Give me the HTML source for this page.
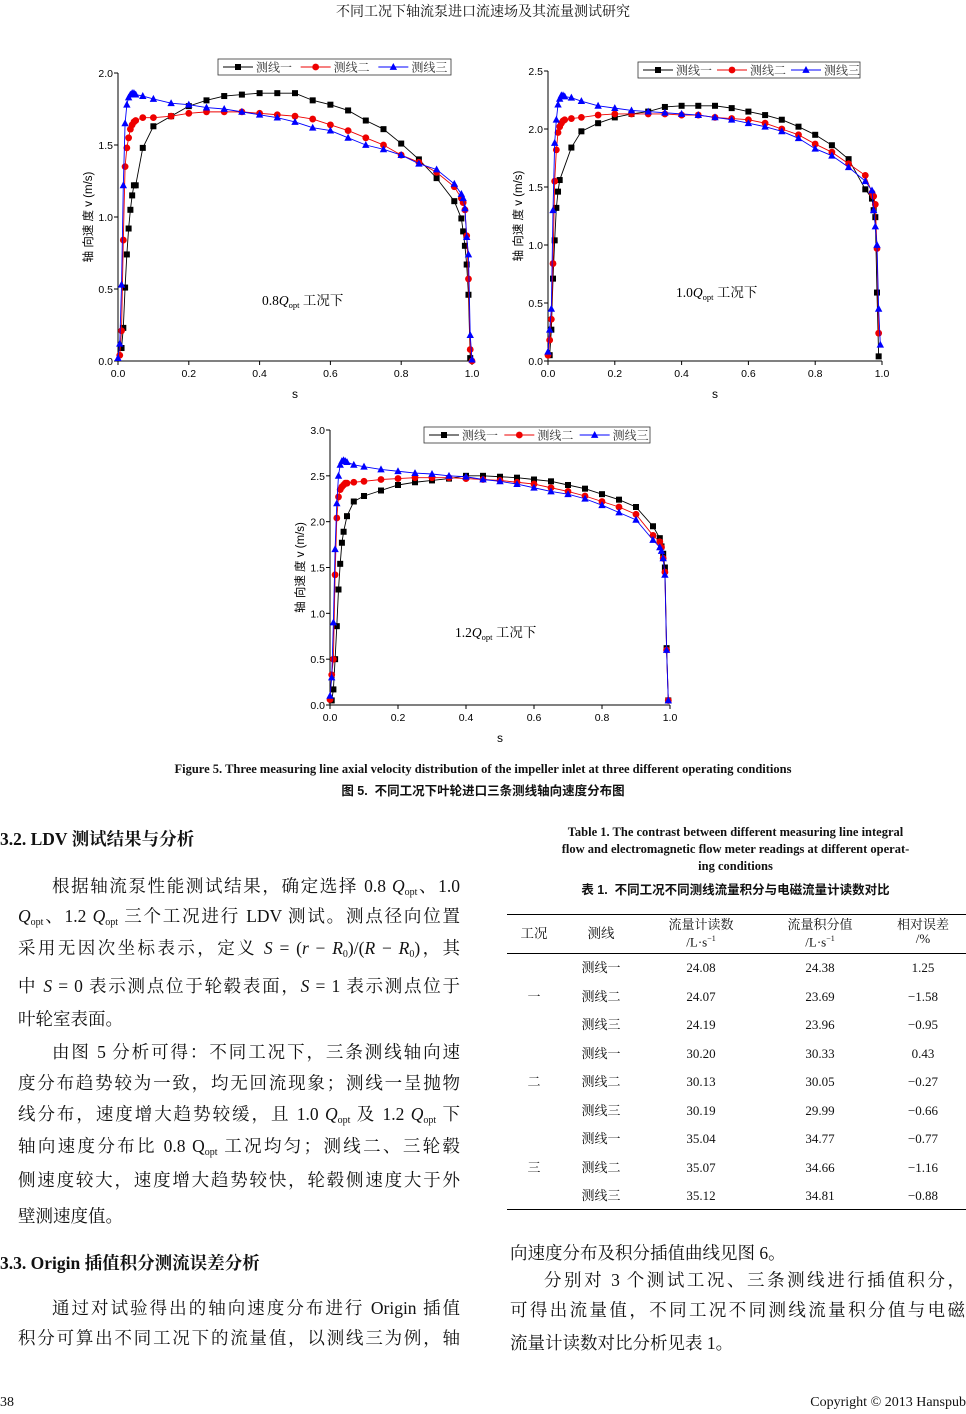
<!DOCTYPE html>
<html><head><meta charset="utf-8">
<style>
body{margin:0;width:966px;height:1414px;position:relative;background:#fff;overflow:hidden;font-family:"Liberation Serif","Noto Serif CJK SC",serif;color:#111}
.a{position:absolute;white-space:nowrap}
.ln{position:absolute;left:18px;width:442px;font-size:17.5px;text-align:justify;text-align-last:justify;white-space:nowrap;line-height:20px}
.rn{position:absolute;left:510px;width:455px;font-size:17.5px;text-align:justify;text-align-last:justify;white-space:nowrap;line-height:20px}
.h{font-weight:bold;font-size:17.5px;position:absolute;left:0}
sub{font-size:10px;vertical-align:-3px}
.t{position:absolute;font-size:13px;text-align:center;width:100px;line-height:14px}
</style></head><body>
<div class="a" style="left:0;width:966px;text-align:center;top:1px;font-size:14px">不同工况下轴流泵进口流速场及其流量测试研究</div>
<svg id="s" width="966" height="760" style="position:absolute;left:0;top:0"></svg>
<div class="a" style="left:0;width:966px;text-align:center;top:762px;font-size:12.5px;font-weight:bold">Figure 5. Three measuring line axial velocity distribution of the impeller inlet at three different operating conditions</div>
<div class="a" style="left:0;width:966px;text-align:center;top:780px;font-size:12.5px;font-weight:bold;font-family:'Liberation Sans','Noto Sans CJK SC',sans-serif">图 5.&nbsp; 不同工况下叶轮进口三条测线轴向速度分布图</div>

<div class="h" style="top:826px;left:0">3.2. LDV 测试结果与分析</div>
<div class="ln" style="top:876px;padding-left:34px;width:408px">根据轴流泵性能测试结果，确定选择 0.8 <i>Q</i><sub>opt</sub>、1.0</div>
<div class="ln" style="top:906px"><i>Q</i><sub>opt</sub>、1.2 <i>Q</i><sub>opt</sub> 三个工况进行 LDV 测试。测点径向位置</div>
<div class="ln" style="top:938px">采用无因次坐标表示，定义 <i>S</i> = (<i>r</i> − <i>R</i><sub>0</sub>)/(<i>R</i> − <i>R</i><sub>0</sub>)，其</div>
<div class="ln" style="top:976px">中 <i>S</i> = 0 表示测点位于轮毂表面，<i>S</i> = 1 表示测点位于</div>
<div class="a" style="left:18px;top:1006px;font-size:17.5px">叶轮室表面。</div>
<div class="ln" style="top:1042px;padding-left:34px;width:408px">由图 5 分析可得：不同工况下，三条测线轴向速</div>
<div class="ln" style="top:1073px">度分布趋势较为一致，均无回流现象；测线一呈抛物</div>
<div class="ln" style="top:1104px">线分布，速度增大趋势较缓，且 1.0 <i>Q</i><sub>opt</sub> 及 1.2 <i>Q</i><sub>opt</sub> 下</div>
<div class="ln" style="top:1136px">轴向速度分布比 0.8 Q<sub>opt</sub> 工况均匀；测线二、三轮毂</div>
<div class="ln" style="top:1170px">侧速度较大，速度增大趋势较快，轮毂侧速度大于外</div>
<div class="a" style="left:18px;top:1203px;font-size:17.5px">壁测速度值。</div>
<div class="h" style="top:1250px;left:0">3.3. Origin 插值积分测流误差分析</div>
<div class="ln" style="top:1298px;padding-left:34px;width:408px">通过对试验得出的轴向速度分布进行 Origin 插值</div>
<div class="ln" style="top:1328px">积分可算出不同工况下的流量值，以测线三为例，轴</div>

<div class="a" style="left:510px;top:1240px;font-size:17.5px">向速度分布及积分插值曲线见图 6。</div>
<div class="rn" style="top:1270px;padding-left:34px;width:421px">分别对 3 个测试工况、三条测线进行插值积分，</div>
<div class="rn" style="top:1300px">可得出流量值，不同工况不同测线流量积分值与电磁</div>
<div class="a" style="left:510px;top:1330px;font-size:17.5px">流量计读数对比分析见表 1。</div>

<div class="a" style="left:505px;width:461px;text-align:center;top:824px;font-size:12.5px;font-weight:bold;line-height:17px">Table 1. The contrast between different measuring line integral<br>flow and electromagnetic flow meter readings at different operat-<br>ing conditions</div>
<div class="a" style="left:505px;width:461px;text-align:center;top:879px;font-size:12.5px;font-weight:bold;font-family:'Liberation Sans','Noto Sans CJK SC',sans-serif">表 1.&nbsp; 不同工况不同测线流量积分与电磁流量计读数对比</div>
<div class="a" style="left:507px;width:459px;top:914px;border-top:1.5px solid #000"></div>
<div class="a" style="left:507px;width:459px;top:953px;border-top:1px solid #000"></div>
<div class="a" style="left:507px;width:459px;top:1209px;border-top:1.5px solid #000"></div>
<div id="tb"></div>

<div class="a" style="left:0;top:1395px;font-size:14px">38</div>
<div class="a" style="right:0;top:1395px;font-size:14px">Copyright © 2013 Hanspub</div>

<script>
const S=document.getElementById('s');let h='';
function chart(o){
 const X=v=>o.x0+(o.x1-o.x0)*v, Y=v=>o.y0-(o.y0-o.y1)*v/o.ym;
 h+=`<line x1="${o.x0}" y1="${o.y0}" x2="${o.x1}" y2="${o.y0}" stroke="#000"/><line x1="${o.x0}" y1="${o.y0}" x2="${o.x0}" y2="${o.y1}" stroke="#000"/>`;
 for(let i=0;i<=5;i++){let v=i*0.2,x=X(v);h+=`<line x1="${x}" y1="${o.y0}" x2="${x}" y2="${o.y0+4}" stroke="#000"/><text x="${x}" y="${o.y0+16}" font-size="10.5" text-anchor="middle" font-family="Liberation Sans">${v.toFixed(1)}</text>`;}
 for(let v=0;v<=o.ym+1e-6;v+=0.5){let y=Y(v);h+=`<line x1="${o.x0}" y1="${y}" x2="${o.x0-4}" y2="${y}" stroke="#000"/><text x="${o.x0-5}" y="${y+4}" font-size="10.5" text-anchor="end" font-family="Liberation Sans">${v.toFixed(1)}</text>`;}
 h+=`<text x="${(o.x0+o.x1)/2}" y="${o.y0+37}" font-size="12" text-anchor="middle" font-family="Liberation Sans">s</text>`;
 const yc=(o.y0+o.y1)/2;
 h+=`<text transform="translate(${o.x0-26},${yc}) rotate(-90)" font-size="11.5" text-anchor="middle" font-family="Liberation Sans,Noto Sans CJK SC">轴 向速 度 v (m/s)</text>`;
 const cols=['#000','#e00','#00f'];
 o.d.forEach((d,k)=>{
  let pts=d.map(p=>[X(p[0]),Y(p[1])]);
  h+=`<polyline points="${pts.map(p=>p.join(',')).join(' ')}" fill="none" stroke="${cols[k]}" stroke-width="0.9"/>`;
  pts.forEach(p=>{
   if(k==0)h+=`<rect x="${p[0]-3}" y="${p[1]-3}" width="6" height="6" fill="#000"/>`;
   else if(k==1)h+=`<circle cx="${p[0]}" cy="${p[1]}" r="3.4" fill="#e00"/>`;
   else h+=`<polygon points="${p[0]},${p[1]-4} ${p[0]-3.7},${p[1]+2.9} ${p[0]+3.7},${p[1]+2.9}" fill="#00f"/>`;
  });
 });
 const L=o.lg;h+=`<rect x="${L[0]}" y="${L[1]}" width="${L[2]}" height="16" fill="#fff" stroke="#333" stroke-width="0.8"/>`;
 const names=['测线一','测线二','测线三'],w=L[2]/3;
 for(let k=0;k<3;k++){let x=L[0]+5+k*w,y=L[1]+8;
  h+=`<line x1="${x}" y1="${y}" x2="${x+30}" y2="${y}" stroke="${cols[k]}"/>`;
  let c=x+15;
  if(k==0)h+=`<rect x="${c-3}" y="${y-3}" width="6" height="6"/>`;else if(k==1)h+=`<circle cx="${c}" cy="${y}" r="3.4" fill="#e00"/>`;else h+=`<polygon points="${c},${y-4} ${c-3.7},${y+2.9} ${c+3.7},${y+2.9}" fill="#00f"/>`;
  h+=`<text x="${x+33}" y="${y+4.5}" font-size="12" font-family="Noto Serif CJK SC" fill="#333">${names[k]}</text>`;}
 h+=`<text x="${o.an[0]}" y="${o.an[1]}" font-size="13.5" font-family="Liberation Serif,Noto Serif CJK SC">${o.an[2]}<tspan font-style="italic">Q</tspan><tspan font-size="8.5" dy="3">opt</tspan><tspan dy="-3"> 工况下</tspan></text>`;
}
const sx=[0,0.005,0.01,0.015,0.02,0.025,0.03,0.035,0.04,0.045,0.05,0.07,0.1,0.15,0.2,0.25,0.3,0.35,0.4,0.45,0.5,0.55,0.6,0.65,0.7,0.75,0.8,0.85,0.9,0.95,0.97,0.975,0.98,0.985,0.99,0.995,1];
function mk(a){return a.map((v,i)=>[sx[i],v]).filter(p=>p[1]!=null);}
chart({x0:118,x1:472,y0:361,y1:73,ym:2,lg:[218,59,233],an:[262,305,'0.8'],d:[
 mk([null,null,0.09,0.23,0.51,0.74,0.92,1.05,1.15,1.22,1.22,1.48,1.63,1.70,1.77,1.81,1.84,1.85,1.86,1.86,1.86,1.81,1.78,1.74,1.67,1.61,1.51,1.40,1.27,1.11,0.99,0.90,0.80,0.67,0.46,0.02,null]),
 mk([null,0.04,0.21,0.84,1.35,1.48,1.55,1.61,1.64,1.66,1.67,1.69,1.69,1.70,1.72,1.73,1.73,1.73,1.72,1.71,1.70,1.68,1.64,1.60,1.55,1.50,1.43,1.38,1.31,1.21,1.13,1.1,1.05,0.87,0.57,0.08,0.0]),
 mk([0.02,0.12,0.53,1.22,1.65,1.78,1.83,1.85,1.86,1.86,1.85,1.84,1.82,1.79,1.78,1.76,1.75,1.73,1.71,1.69,1.66,1.62,1.60,1.55,1.50,1.47,1.43,1.37,1.33,1.23,1.16,1.13,1.06,0.86,0.74,0.18,0.01])]});
chart({x0:548,x1:882,y0:361,y1:71,ym:2.5,lg:[638,62,222],an:[676,297,'1.0'],d:[
 mk([null,0.05,0.27,0.71,1.04,1.32,1.46,1.56,null,null,null,1.84,1.98,2.05,2.1,2.13,2.15,2.19,2.2,2.2,2.2,2.18,2.15,2.12,2.08,2.02,1.95,1.86,1.74,1.48,1.4,1.3,1.24,0.59,0.04,null,null]),
 mk([0.05,0.18,0.36,0.84,1.55,1.82,1.97,2.02,2.05,2.07,2.08,2.09,2.1,2.12,2.13,2.13,2.13,2.13,2.12,2.12,2.1,2.09,2.08,2.05,2.0,1.95,1.87,1.8,1.7,1.6,1.45,1.42,1.35,0.97,0.24,null,null]),
 mk([0.08,0.27,0.45,1.3,1.88,2.08,2.21,2.26,2.29,2.29,2.28,2.27,2.24,2.2,2.18,2.16,2.15,2.14,2.13,2.12,2.1,2.08,2.05,2.02,1.98,1.92,1.83,1.77,1.67,1.55,1.47,1.3,1.16,1.0,0.45,0.14,null])]});
chart({x0:330,x1:670,y0:705,y1:430,ym:3,lg:[424,427,226],an:[455,637,'1.2'],d:[
 mk([null,0.05,0.17,0.5,0.86,1.26,1.54,1.77,1.89,null,2.06,2.22,2.28,2.34,2.4,2.43,2.45,2.47,2.5,2.5,2.49,2.48,2.46,2.44,2.4,2.36,2.3,2.24,2.16,1.95,1.82,1.73,1.65,1.5,0.62,0.05,null]),
 mk([0.06,0.33,0.5,1.42,2.04,2.27,2.35,2.38,2.4,2.42,2.42,2.43,2.44,2.46,2.47,2.48,2.48,2.48,2.47,2.46,2.45,2.43,2.41,2.37,2.33,2.28,2.22,2.16,2.08,1.85,1.78,1.72,1.6,1.45,0.6,0.05,null]),
 mk([0.1,0.3,0.9,1.7,2.2,2.5,2.62,2.66,2.67,2.66,2.65,2.62,2.6,2.57,2.55,2.53,2.52,2.5,2.49,2.46,2.44,2.41,2.37,2.33,2.3,2.25,2.18,2.1,2.02,1.8,1.72,1.68,1.6,1.42,0.6,0.05,null])]});
S.innerHTML=h;
const rows=[['测线一','24.08','24.38','1.25'],['测线二','24.07','23.69','−1.58'],['测线三','24.19','23.96','−0.95'],['测线一','30.20','30.33','0.43'],['测线二','30.13','30.05','−0.27'],['测线三','30.19','29.99','−0.66'],['测线一','35.04','34.77','−0.77'],['测线二','35.07','34.66','−1.16'],['测线三','35.12','34.81','−0.88']];
const cx=[601,701,820,923];let t='';
t+=`<div class="t" style="left:484px;top:927px;font-size:13.5px">工况</div><div class="t" style="left:551px;top:927px;font-size:13.5px">测线</div>`;
[['流量计读数','/L·s<sup style="font-size:8px">−1</sup>',701],['流量积分值','/L·s<sup style="font-size:8px">−1</sup>',820],['相对误差','/%',923]].forEach(c=>{t+=`<div class="t" style="left:${c[2]-50}px;top:918px">${c[0]}<br>${c[1]}</div>`;});
rows.forEach((r,i)=>{let y=961+i*28.5;r.forEach((v,j)=>{t+=`<div class="t" style="left:${cx[j]-50}px;top:${y}px">${v}</div>`;});});
['一','二','三'].forEach((v,i)=>{t+=`<div class="t" style="left:484px;top:${989.5+i*85.5}px">${v}</div>`;});
document.getElementById('tb').innerHTML=t;
</script>
</body></html>
